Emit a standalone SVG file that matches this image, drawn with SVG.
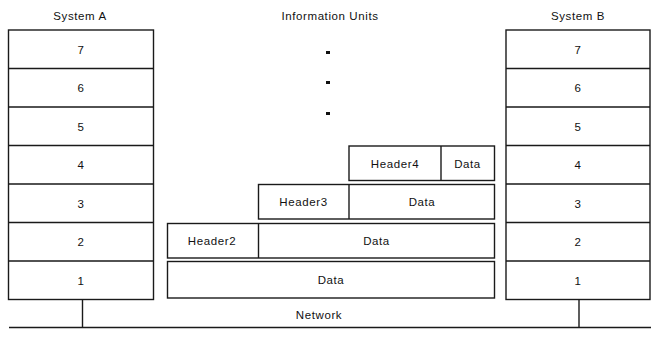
<svg xmlns="http://www.w3.org/2000/svg" width="666" height="341" viewBox="0 0 666 341">
<style>
.b{fill:#fff;stroke:#1a1a1a;stroke-width:1.4}
.l{stroke:#1a1a1a;stroke-width:1.4;fill:none}
text{font-family:"Liberation Sans",Arial,sans-serif;font-size:11.5px;letter-spacing:0.6px;fill:#111;text-anchor:middle}
</style>
<rect width="666" height="341" fill="#fff"/>
<text x="80" y="19.5">System A</text>
<text x="330" y="19.5">Information Units</text>
<text x="578" y="19.5">System B</text>
<g id="systemA">
<rect class="b" x="8.5" y="30" width="145" height="269.5"/>
<path class="l" d="M8.5 68.5H153.5M8.5 107H153.5M8.5 145.5H153.5M8.5 184H153.5M8.5 222.5H153.5M8.5 261H153.5"/>
<text x="81" y="53.5">7</text>
<text x="81" y="92">6</text>
<text x="81" y="130.5">5</text>
<text x="81" y="169">4</text>
<text x="81" y="207.5">3</text>
<text x="81" y="246">2</text>
<text x="81" y="284.5">1</text>
</g>
<g id="systemB">
<rect class="b" x="506" y="30" width="144" height="269.5"/>
<path class="l" d="M506 68.5H650M506 107H650M506 145.5H650M506 184H650M506 222.5H650M506 261H650"/>
<text x="578" y="53.5">7</text>
<text x="578" y="92">6</text>
<text x="578" y="130.5">5</text>
<text x="578" y="169">4</text>
<text x="578" y="207.5">3</text>
<text x="578" y="246">2</text>
<text x="578" y="284.5">1</text>
</g>
<g id="dots" fill="#111">
<rect x="326" y="51" width="4" height="3"/>
<rect x="326" y="81" width="4" height="3"/>
<rect x="326" y="112" width="4" height="3"/>
</g>
<g id="unit4">
<rect class="b" x="349" y="146" width="145.5" height="34.5"/>
<path class="l" d="M441 146V180.5"/>
<text x="395" y="167.5">Header4</text>
<text x="467.5" y="167.5">Data</text>
</g>
<g id="unit3">
<rect class="b" x="258.5" y="184.5" width="236" height="34.5"/>
<path class="l" d="M349 184.5V219"/>
<text x="303.5" y="206">Header3</text>
<text x="422" y="206">Data</text>
</g>
<g id="unit2">
<rect class="b" x="167.5" y="223.5" width="327" height="34.5"/>
<path class="l" d="M258.5 223.5V258"/>
<text x="212" y="245">Header2</text>
<text x="376.5" y="245">Data</text>
</g>
<g id="unit1">
<rect class="b" x="167.5" y="261.5" width="327" height="36.5"/>
<text x="331" y="284">Data</text>
</g>
<g id="connectors">
<path class="l" d="M9 327.5H651M82.5 299.5V327.5M579 299.5V327.5"/>
</g>
<text x="319" y="318.5">Network</text>
</svg>
